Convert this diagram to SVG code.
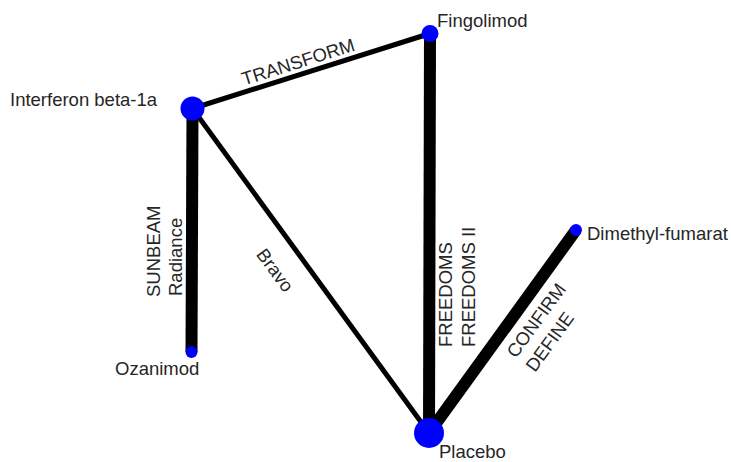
<svg xmlns="http://www.w3.org/2000/svg" width="731" height="462" viewBox="0 0 731 462">
<style>
.e{stroke:#000;fill:none}
.n{fill:#0000ff}
text{font-family:"Liberation Sans",Arial,sans-serif;font-size:18.5px;fill:#262626}
</style>
<rect width="731" height="462" fill="#fff"/>
<g id="edges">
<line class="e" x1="192.5" y1="108.5" x2="430" y2="33.5" stroke-width="5"/>
<line class="e" x1="192.5" y1="108.5" x2="191.5" y2="352" stroke-width="12"/>
<line class="e" x1="192.5" y1="108.5" x2="429" y2="433" stroke-width="5"/>
<line class="e" x1="430" y1="33.5" x2="429" y2="433" stroke-width="12"/>
<line class="e" x1="576" y1="230" x2="429" y2="433" stroke-width="12"/>
<text transform="rotate(-17.5 300 68)" x="300" y="68" text-anchor="middle">TRANSFORM</text>
<text transform="rotate(-90 160 297)" x="160" y="297">SUNBEAM</text>
<text transform="rotate(-90 182 296)" x="182" y="296">Radiance</text>
<text transform="rotate(53.5 270 274)" x="270" y="274" text-anchor="middle">Bravo</text>
<text transform="rotate(-90 452 347)" x="452" y="347">FREEDOMS</text>
<text transform="rotate(-90 475 347)" x="475" y="347">FREEDOMS II</text>
<text transform="rotate(-54 516 359)" x="516" y="359">CONFIRM</text>
<text transform="rotate(-54 535 373)" x="535" y="373">DEFINE</text>
</g>
<g id="interferon"><circle class="n" cx="192.5" cy="108.5" r="12"/><text x="10" y="106">Interferon beta-1a</text></g>
<g id="fingolimod"><circle class="n" cx="430" cy="33.5" r="8.5"/><text x="437" y="27">Fingolimod</text></g>
<g id="dimethyl"><circle class="n" cx="576" cy="230" r="6"/><text x="587" y="240">Dimethyl-fumarat</text></g>
<g id="ozanimod"><circle class="n" cx="191.5" cy="352" r="6"/><text x="115" y="375">Ozanimod</text></g>
<g id="placebo"><circle class="n" cx="429" cy="433" r="15"/><text x="439" y="458">Placebo</text></g>
</svg>
